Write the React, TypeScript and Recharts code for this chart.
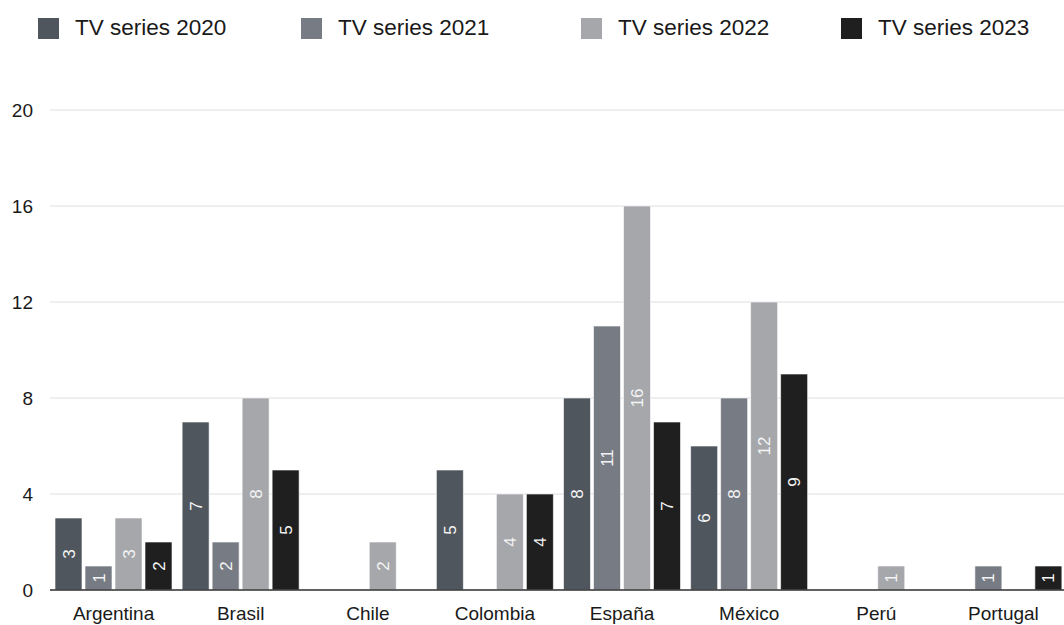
import { BarChart, Bar, XAxis, YAxis, CartesianGrid, LabelList } from "recharts";

const countries = ["Argentina", "Brasil", "Chile", "Colombia", "España", "México", "Perú", "Portugal"];
const series2020 = [3, 7, 0, 5, 8, 6, 0, 0];
const series2021 = [1, 2, 0, 0, 11, 8, 0, 1];
const series2022 = [3, 8, 2, 4, 16, 12, 1, 0];
const series2023 = [2, 5, 0, 4, 7, 9, 0, 1];
const yTicks = [0, 4, 8, 12, 16, 20];

const seriesNames = ["TV series 2020", "TV series 2021", "TV series 2022", "TV series 2023"];
const colors = ["#50565e", "#777c84", "#a5a7ab", "#1f1f1f"];
const legendLeft = [38, 301, 581, 841];

const data = countries.map((c, i) => ({
  country: c,
  s2020: series2020[i],
  s2021: series2021[i],
  s2022: series2022[i],
  s2023: series2023[i],
}));
const keys = ["s2020", "s2021", "s2022", "s2023"];

const font = '"Liberation Sans", Arial, Helvetica, sans-serif';

const App = () => {
  return (
    <div style={{ position: "absolute", left: 0, top: 0, width: 1064, height: 625, fontFamily: font, overflow: "hidden" }}>
      {seriesNames.map((name, i) => (
        <div
          key={name}
          style={{
            position: "absolute",
            left: legendLeft[i],
            top: 17,
            height: 22,
            display: "flex",
            alignItems: "center",
            fontSize: 22.5,
            color: "#1a1a1a",
            whiteSpace: "nowrap",
          }}
        >
          <span style={{ display: "inline-block", width: 21, height: 21, background: colors[i], marginRight: 16 }} />
          {name}
        </div>
      ))}
      <BarChart
        width={1064}
        height={625}
        data={data}
        margin={{ top: 110, right: -3, left: 0, bottom: 0 }}
        barCategoryGap={5}
        barGap={3}
        style={{ fontFamily: font }}
      >
        <CartesianGrid vertical={false} stroke="#dedede" />
        <XAxis
          dataKey="country"
          height={35}
          tickLine={false}
          tickMargin={11}
          axisLine={{ stroke: "#333", strokeWidth: 1.5 }}
          tick={{ fontSize: 19, fill: "#1a1a1a" }}
          interval={0}
        />
        <YAxis
          width={50}
          domain={[0, 20]}
          ticks={yTicks}
          axisLine={false}
          tickLine={false}
          tickMargin={11}
          tick={{ fontSize: 19, fill: "#1a1a1a" }}
        />
        {keys.map((k, i) => (
          <Bar key={k} dataKey={k} fill={colors[i]} stroke="rgba(255,255,255,0.6)" strokeWidth={1} isAnimationActive={false}>
            <LabelList
              dataKey={k}
              position="center"
              angle={-90}
              fill="#f4f4f4"
              fontSize={17}
              formatter={(v: any) => (v ? v : "")}
            />
          </Bar>
        ))}
      </BarChart>
    </div>
  );
};

export default App;
